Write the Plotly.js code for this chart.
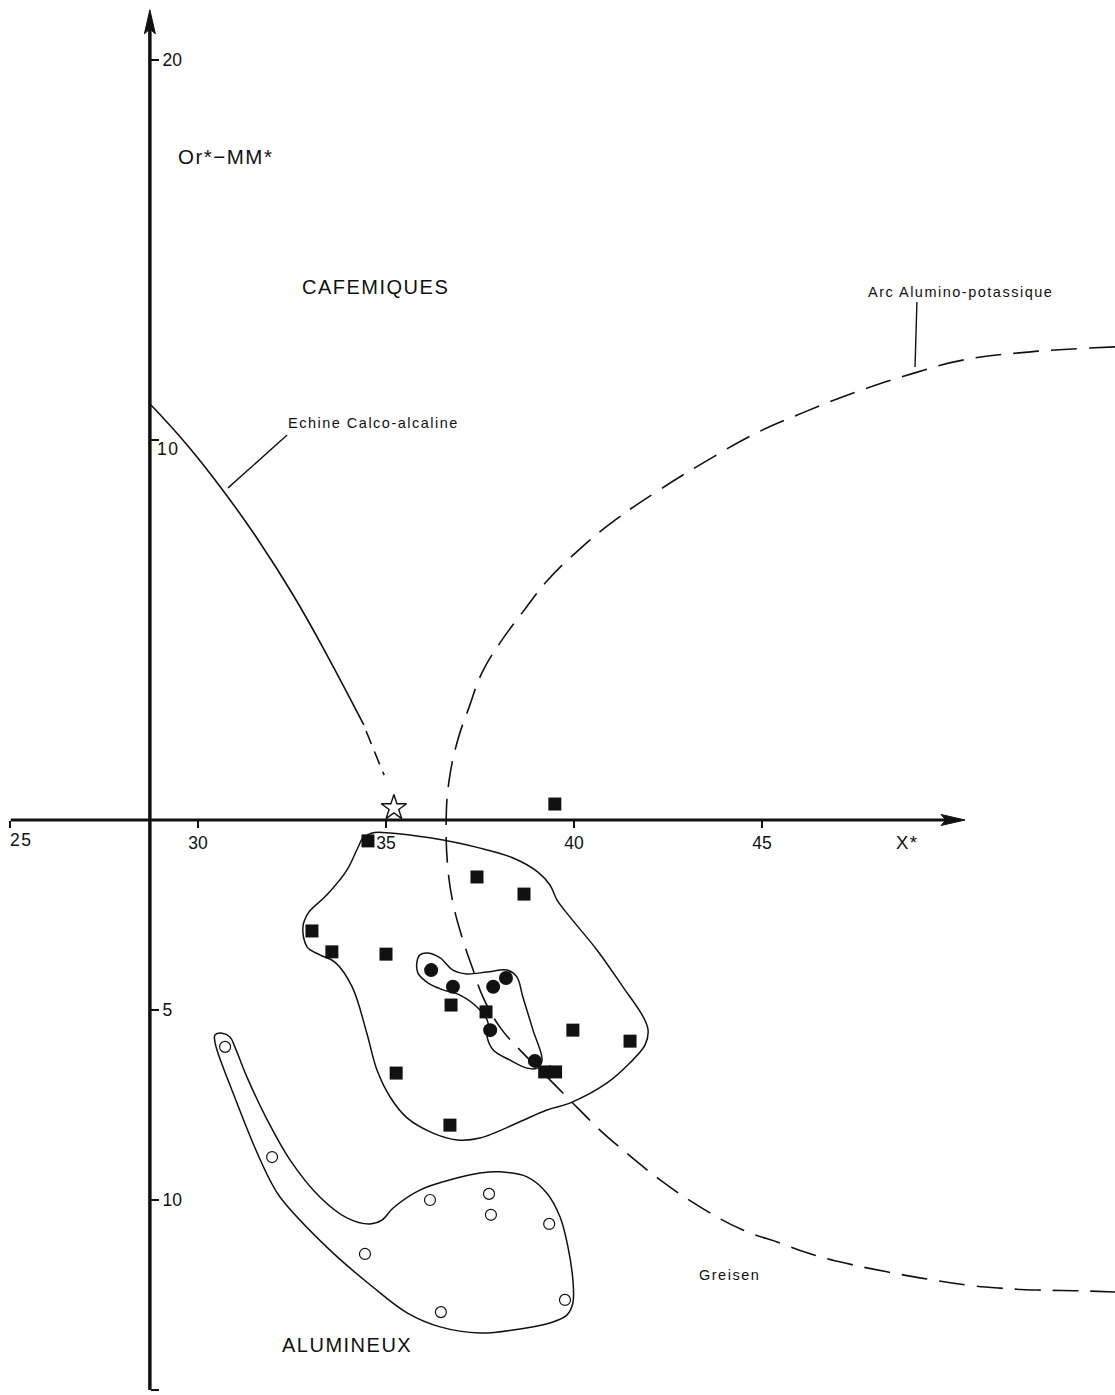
<!DOCTYPE html>
<html><head><meta charset="utf-8">
<script src="https://cdn.plot.ly/plotly-3.0.1.min.js"></script>
<style>
body{margin:0;background:#fff}
svg text.annotation-text{letter-spacing:1.5px}
</style>
</head><body>
<div id="chart" style="width:1115px;height:1395px"></div>
<script>
// ---------- data (chart units: X* horizontal, Or*-MM* vertical) ----------
const squareX = [34.52, 37.42, 38.67, 33.03, 33.56, 35.00, 36.73, 37.66, 39.97, 41.49, 35.27, 39.22, 39.51, 36.70, 39.49];
const squareY = [-0.55, -1.50, -1.95, -2.92, -3.47, -3.53, -4.87, -5.05, -5.53, -5.82, -6.66, -6.63, -6.63, -8.03, 0.42];

const dotX = [36.20, 36.78, 37.85, 38.19, 37.77, 38.96];
const dotY = [-3.95, -4.39, -4.39, -4.16, -5.53, -6.34];

const ringX = [30.72, 31.97, 36.17, 37.74, 37.79, 39.34, 34.44, 39.76, 36.46];
const ringY = [-5.97, -8.87, -10.00, -9.84, -10.39, -10.63, -11.42, -12.63, -12.95];

const starX = [35.21];
const starY = [0.32];

// Echine Calco-alcaline
const echineX = [28.75, 29.71, 30.66, 31.60, 32.53, 33.43, 34.41];
const echineY = [10.92, 9.87, 8.68, 7.37, 5.92, 4.34, 2.50];
const echineDashX = [34.47, 34.95];
const echineDashY = [2.34, 1.18];
const echineLeaderX = [30.80, 32.37];
const echineLeaderY = [8.74, 10.13];

// Arc Alumino-potassique
const arcX = [54.39, 52.15, 50.37, 49.04, 47.66, 46.14, 44.84, 43.56, 42.26, 41.09, 40.13, 39.31, 38.62, 38.03, 37.55, 37.21, 36.91, 36.68, 36.60,
              36.65, 36.78, 37.02, 37.29, 37.58, 38.03, 38.56, 39.28, 39.89, 40.69, 41.14, 42.29, 43.35, 44.49, 45.48, 46.20, 47.21, 48.32, 49.39, 50.45, 51.33, 52.31, 53.46, 54.39];
const arcY = [12.45, 12.32, 12.11, 11.76, 11.32, 10.74, 10.18, 9.47, 8.68, 7.89, 7.11, 6.32, 5.45, 4.66, 3.87, 2.97, 2.11, 1.05, 0.00,
              -1.32, -2.18, -3.08, -3.87, -4.66, -5.45, -6.05, -6.76, -7.37, -8.16, -8.55, -9.47, -10.18, -10.79, -11.13, -11.39, -11.66, -11.89, -12.08, -12.24, -12.32, -12.37, -12.39, -12.42];
const arcLeaderX = [49.12, 49.07];
const arcLeaderY = [13.63, 11.92];

// contour around the squares
const bigLoopX = [34.39, 34.63, 35.11, 36.17, 37.50, 38.38, 39.04, 39.36, 39.55, 39.89, 40.61, 41.30, 41.84, 41.97, 41.89, 41.49, 40.88, 39.89, 39.28, 37.50, 36.89, 36.25, 35.56, 35.11, 34.76, 34.49, 34.10, 33.64, 33.24, 32.90, 32.79, 32.93, 33.43, 33.96, 34.26, 34.39];
const bigLoopY = [-0.47, -0.34, -0.34, -0.47, -0.74, -1.00, -1.37, -1.71, -2.11, -2.55, -3.42, -4.39, -5.18, -5.53, -5.92, -6.39, -6.92, -7.45, -7.63, -8.37, -8.42, -8.24, -7.84, -7.29, -6.58, -5.61, -4.39, -3.74, -3.55, -3.34, -2.82, -2.45, -1.97, -1.32, -0.71, -0.47];

// contour around the filled circles
const smallLoopX = [35.82, 35.90, 36.12, 36.44, 36.78, 37.15, 37.69, 38.22, 38.48, 38.64, 38.91, 39.15, 39.02, 38.75, 38.30, 37.85, 37.69, 37.71, 37.50, 36.97, 36.52, 36.12, 35.85, 35.82];
const smallLoopY = [-3.76, -3.55, -3.50, -3.63, -3.95, -4.05, -4.00, -3.95, -4.13, -4.66, -5.53, -6.32, -6.53, -6.53, -6.32, -6.05, -5.71, -5.32, -5.00, -4.61, -4.47, -4.29, -4.03, -3.76];

// contour around the open circles
const aluLoopX = [30.45, 30.64, 30.85, 30.98, 31.30, 31.84, 32.45, 33.24, 33.96, 34.57, 34.89, 35.19, 35.90, 36.78, 37.50, 38.03, 38.75, 39.28, 39.63, 39.84, 39.97, 39.97, 39.81, 39.44, 38.38, 37.50, 36.44, 35.56, 34.65, 33.51, 32.18, 31.91, 31.46, 30.93, 30.53, 30.45, 30.45];
const aluLoopY = [-5.66, -5.61, -5.71, -5.97, -6.76, -7.89, -8.95, -9.92, -10.47, -10.63, -10.53, -10.21, -9.74, -9.45, -9.29, -9.26, -9.39, -9.82, -10.45, -11.24, -12.11, -12.71, -13.03, -13.21, -13.42, -13.50, -13.34, -12.97, -12.29, -11.32, -9.92, -9.47, -8.50, -7.18, -6.13, -5.84, -5.66];

// axes
const xTickVals = [25, 30, 35, 40, 45];
const xTickText = ['', '30', '35', '40', '45'];
const yTickVals = [-15, -10, -5, 10, 20];
const yTickText = ['15', '10', '5', '', '20'];
const axisCrossX = 28.72;          // X* where the vertical axis stands
const xAxisSpan = [25.02, 50.40];  // horizontal axis from / arrow tip
const yAxisSpan = [-15.0, 21.32];  // vertical axis from / arrow tip

const W = 1115, H = 1395;
const xRange = [24.734, 54.388], yRange = [-15.132, 21.579];
const pxX = W / (xRange[1] - xRange[0]), pxY = H / (yRange[1] - yRange[0]);
const headLen = 24, headHalf = 5.5; // arrowhead size in px

const FONT = 'Liberation Sans, Arial, Helvetica, sans-serif';
const line = (x, y, extra) => Object.assign({type: 'scatter', mode: 'lines', x, y, hoverinfo: 'skip',
  line: Object.assign({color: '#111', width: 1.5}, extra || {})});

const traces = [
  line(echineX, echineY, {shape: 'spline', smoothing: 1.3, width: 1.6}),
  line(echineDashX, echineDashY, {dash: '14px,8px', width: 1.6}),
  line(echineLeaderX, echineLeaderY, {width: 1.4}),
  line(arcX, arcY, {shape: 'spline', smoothing: 1.2, dash: '26px,12px', width: 1.6}),
  line(arcLeaderX, arcLeaderY, {width: 1.4}),
  line(bigLoopX, bigLoopY, {shape: 'spline', smoothing: 1}),
  line(smallLoopX, smallLoopY, {shape: 'spline', smoothing: 1}),
  line(aluLoopX, aluLoopY, {shape: 'spline', smoothing: 1}),
  {type: 'scatter', mode: 'markers', x: squareX, y: squareY,
   marker: {symbol: 'square', size: 13, color: '#111', line: {width: 0}}},
  {type: 'scatter', mode: 'markers', x: dotX, y: dotY,
   marker: {symbol: 'circle', size: 14, color: '#111', line: {width: 0}}},
  {type: 'scatter', mode: 'markers', x: ringX, y: ringY,
   marker: {symbol: 'circle-open', size: 11, color: '#111', line: {width: 1.2}}},
  {type: 'scatter', mode: 'markers', x: starX, y: starY,
   marker: {symbol: 'star-open', size: 19, color: '#111', line: {width: 1.4}}}
];

// axis lines and arrowheads
const hx = headLen / pxX, hy = headLen / pxY, wx = headHalf / pxX, wy = headHalf / pxY;
const shapes = [
  {type: 'line', xref: 'x', yref: 'y', x0: xAxisSpan[0], x1: xAxisSpan[1] - hx * 0.8, y0: 0, y1: 0,
   line: {color: '#111', width: 3}},
  {type: 'line', xref: 'x', yref: 'y', x0: axisCrossX, x1: axisCrossX, y0: yAxisSpan[0], y1: yAxisSpan[1] - hy * 0.8,
   line: {color: '#111', width: 3.5}},
  {type: 'path', xref: 'x', yref: 'y', fillcolor: '#111', line: {color: '#111', width: 1},
   path: `M${xAxisSpan[1]},0 L${xAxisSpan[1] - hx},${wy} L${xAxisSpan[1] - hx * 0.8},0 L${xAxisSpan[1] - hx},${-wy} Z`},
  {type: 'path', xref: 'x', yref: 'y', fillcolor: '#111', line: {color: '#111', width: 1},
   path: `M${axisCrossX},${yAxisSpan[1]} L${axisCrossX - wx},${yAxisSpan[1] - hy} L${axisCrossX},${yAxisSpan[1] - hy * 0.8} L${axisCrossX + wx},${yAxisSpan[1] - hy} Z`}
];

const txt = (text, x, y, size, extra) => Object.assign({text, x, y, xref: 'x', yref: 'y', showarrow: false,
  font: {family: FONT, size, color: '#111'}}, extra || {});

const annotations = [
  txt('25', 25.30, -0.53, 17.5),
  txt('10', 29.20, 9.76, 17.5),
  txt('X*', 48.86, -0.60, 18.5),
  txt('Or*−MM*', 30.72, 17.45, 20.5),
  txt('CAFEMIQUES', 34.71, 14.03, 20),
  txt('ALUMINEUX', 33.96, -13.82, 20),
  txt('Echine Calco-alcaline', 32.35, 10.45, 14.5, {xanchor: 'left'}),
  txt('Arc Alumino-potassique', 50.27, 13.89, 14.5),
  txt('Greisen', 44.14, -11.97, 14.5)
];

const layout = {
  width: W, height: H,
  margin: {l: 0, r: 0, t: 0, b: 0},
  paper_bgcolor: '#fff', plot_bgcolor: '#fff',
  showlegend: false,
  xaxis: {range: xRange, showgrid: false, zeroline: false, showline: false,
          anchor: 'free', position: 575 / 1395, side: 'bottom',
          tickmode: 'array', tickvals: xTickVals, ticktext: xTickText,
          ticks: 'outside', ticklen: 7, tickwidth: 2, tickcolor: '#111',
          tickfont: {family: FONT, size: 17.5, color: '#111'}},
  yaxis: {range: yRange, showgrid: false, zeroline: false, showline: false,
          anchor: 'free', position: 150 / 1115, side: 'right',
          tickmode: 'array', tickvals: yTickVals, ticktext: yTickText,
          ticks: 'outside', ticklen: 8, tickwidth: 2, tickcolor: '#111',
          tickfont: {family: FONT, size: 17.5, color: '#111'}},
  shapes, annotations
};

Plotly.newPlot('chart', traces, layout, {displayModeBar: false, staticPlot: true});
</script>
</body></html>
